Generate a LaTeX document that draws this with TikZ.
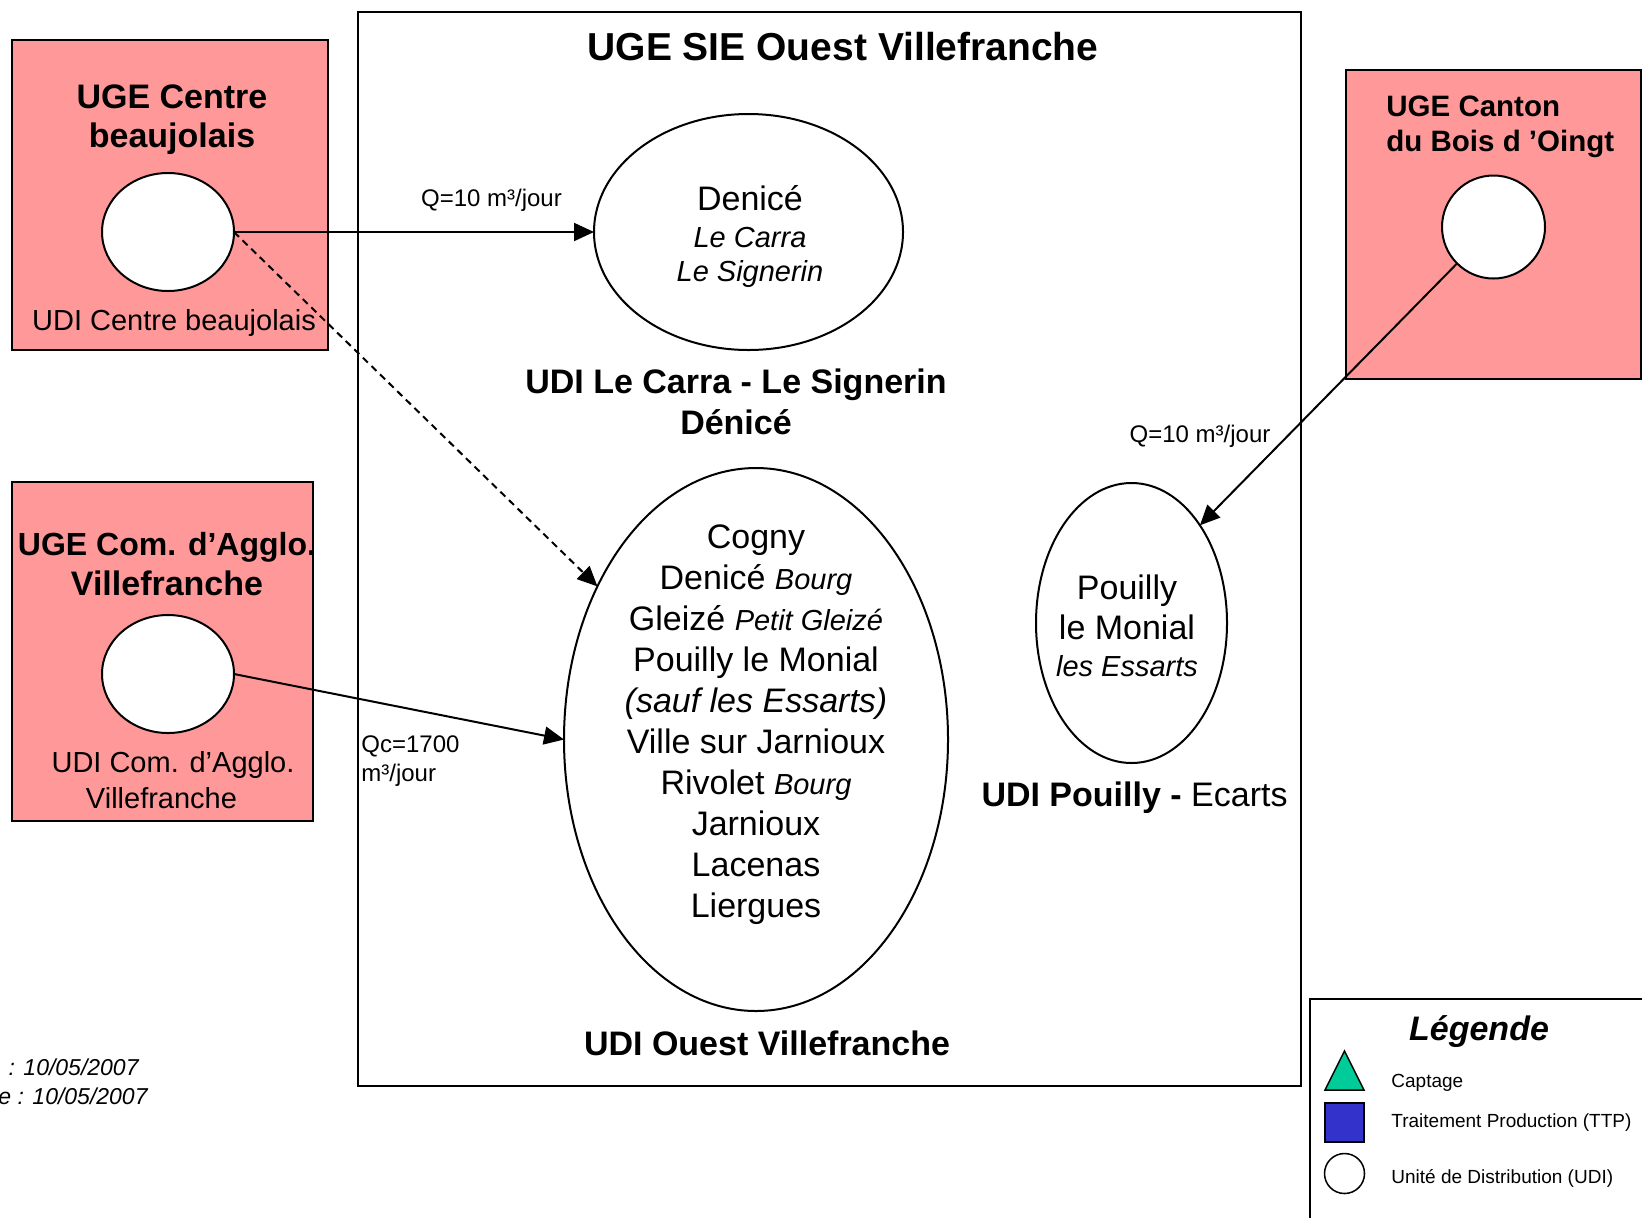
\documentclass[tikz,border=0pt]{standalone}
\usepackage{fontspec}
\setmainfont{Liberation Sans}
\usetikzlibrary{shapes.geometric,arrows.meta}
\definecolor{ugepink}{RGB}{255,153,153}
\definecolor{captgreen}{RGB}{0,204,153}
\definecolor{ttpblue}{RGB}{51,51,204}
\newcommand{\fsz}[2]{\fontsize{#1}{#2}\selectfont}
\begin{document}
\begin{tikzpicture}[x=0.5pt,y=-0.5pt,
  frame/.style={draw,line width=1pt},
  ugebox/.style={draw,line width=1pt,fill=ugepink},
  udi/.style={draw,line width=1pt,fill=white,ellipse,inner sep=0pt,outer sep=0pt},
  flow/.style={line width=1pt,-{Triangle[length=10pt,width=9pt]}},
  lbl/.style={inner sep=0pt,anchor=base},
  bigbold/.style={font=\fsz{17pt}{19.5pt}\bfseries},
  plain/.style={font=\fsz{14.5pt}{18pt}},
  qlabel/.style={font=\fsz{12pt}{14.5pt}},
  legtext/.style={font=\fsz{9.5pt}{11pt},inner sep=0pt,anchor=base west}]
\useasboundingbox (0,0) rectangle (1642,1217);
\clip (0,0) rectangle (1642,1217);

% management units (pink frames)
\draw[ugebox] (12,40) rectangle (328,350);
\draw[ugebox] (12,482) rectangle (313,821);
\draw[ugebox] (1346,70) rectangle (1640.5,379);

% SIE Ouest Villefranche frame
\draw[frame] (358,11.5) rectangle (1301,1086);

% legend frame
\draw[frame] (1310,999) rectangle (1670,1250);

% distribution units
\node[udi, minimum width=66pt, minimum height=59pt] (centre) at (168,232) {};
\node[udi, minimum width=66pt, minimum height=59pt] (agglo) at (168,674) {};
\node[udi, circle, minimum size=51.5pt] (canton) at (1493.5,227) {};
\node[udi, minimum width=154.5pt, minimum height=118pt] (denice) at (748.5,232) {};
\node[udi, minimum width=192pt, minimum height=271.5pt] (ouest) at (756,739.5) {};
\node[udi, minimum width=95.5pt, minimum height=140pt] (pouilly) at (1131.5,623) {};

% water transfers
\draw[flow] (centre.east) -- (denice.west);
\draw[flow, dash pattern=on 3.5pt off 2.5pt] (centre.east) -- (ouest.136);
\draw[flow] (agglo.east) -- (ouest.west);
\draw[flow] (canton.225) -- (pouilly.55.5);

% titles (multi-line nodes sit on the baseline of their last line)
\node[lbl, font=\fsz{19.5pt}{23pt}\bfseries] (tmain) at (843,60) {UGE SIE Ouest Villefranche};
\node[lbl, bigbold, align=center] (tcentre) at (172,147) {UGE Centre\\beaujolais};
\node[lbl, plain] (ucentre) at (174,330) {UDI Centre beaujolais};
\node[lbl, font=\fsz{17pt}{20pt}\bfseries, align=center] (tagglo) at (167,595) {{\fsz{16pt}{20pt}UGE Com. d’Agglo.}\\Villefranche};
\node[lbl, plain, align=center] (uagglo) at (168,808) {\hspace*{5pt}UDI Com. d’Agglo.\\Villefranche\hspace*{6.5pt}};
\node[lbl, font=\fsz{14.75pt}{17.5pt}\bfseries, align=left, anchor=base west] (tcanton) at (1386,151) {UGE Canton\\du Bois d ’Oingt};

% flow labels
\node[lbl, qlabel] (q1) at (491.5,206) {Q=10 m³/jour};
\node[lbl, qlabel] (q2) at (1200,442) {Q=10 m³/jour};
\node[lbl, qlabel, align=left, anchor=base west] (q3) at (361,781) {Qc=1700\\m³/jour};

% contents of the distribution units
\node[lbl, font=\fsz{17pt}{17pt}, align=center] (cdenice) at (750,281)
  {Denicé\\[1.5pt]\itshape\fsz{14.5pt}{17pt}Le Carra\\\itshape\fsz{14.5pt}{17pt}Le Signerin};
\node[lbl, bigbold, align=center] (udenice) at (736,434) {UDI Le Carra - Le Signerin\\[1pt]Dénicé};

\node[lbl, font=\fsz{17pt}{20.5pt}, align=center] (couest) at (756,917)
  {Cogny\\
   Denicé {\itshape\fsz{14.5pt}{17pt}Bourg}\\
   Gleizé {\itshape\fsz{14.5pt}{17pt}Petit Gleizé}\\
   Pouilly le Monial\\
   {\itshape (sauf les Essarts)}\\
   Ville sur Jarnioux\\
   Rivolet {\itshape\fsz{14.5pt}{17pt}Bourg}\\
   Jarnioux\\
   Lacenas\\
   Liergues};
\node[lbl, bigbold] (uouest) at (767,1055) {UDI Ouest Villefranche};

\node[lbl, font=\fsz{17pt}{18.5pt}, align=center] (cpouilly) at (1127,676)
  {Pouilly\\[1.25pt]le Monial\hspace*{5pt}\\\itshape\fsz{14.5pt}{17pt}les Essarts};
\node[lbl, font=\fsz{17pt}{19.5pt}] (upouilly) at (1134.5,806) {{\bfseries UDI Pouilly -} Ecarts};

% dates
\node[lbl, anchor=base east, font=\fsz{11.5pt}{14pt}\itshape] (date1) at (139,1075) {: 10/05/2007};
\node[lbl, anchor=base east, font=\fsz{11.5pt}{14pt}\itshape] (date2) at (148,1104) {e : 10/05/2007};

% legend
\node[lbl, font=\fsz{17pt}{19.5pt}\bfseries\itshape] (tleg) at (1479,1040) {Légende};
\draw[line width=0.75pt, fill=captgreen] (1325,1090) -- (1344.5,1051) -- (1364,1090) -- cycle;
\draw[line width=0.75pt, fill=ttpblue] (1325,1103) rectangle (1364,1142);
\node[udi, circle, line width=0.75pt, minimum size=20pt] (legudi) at (1344.5,1173.5) {};
\node[legtext] (lcapt) at (1391,1087) {Captage};
\node[legtext] (lttp) at (1391,1127) {Traitement Production (TTP)};
\node[legtext] (ludi) at (1391,1183) {Unité de Distribution (UDI)};
\end{tikzpicture}
\end{document}
